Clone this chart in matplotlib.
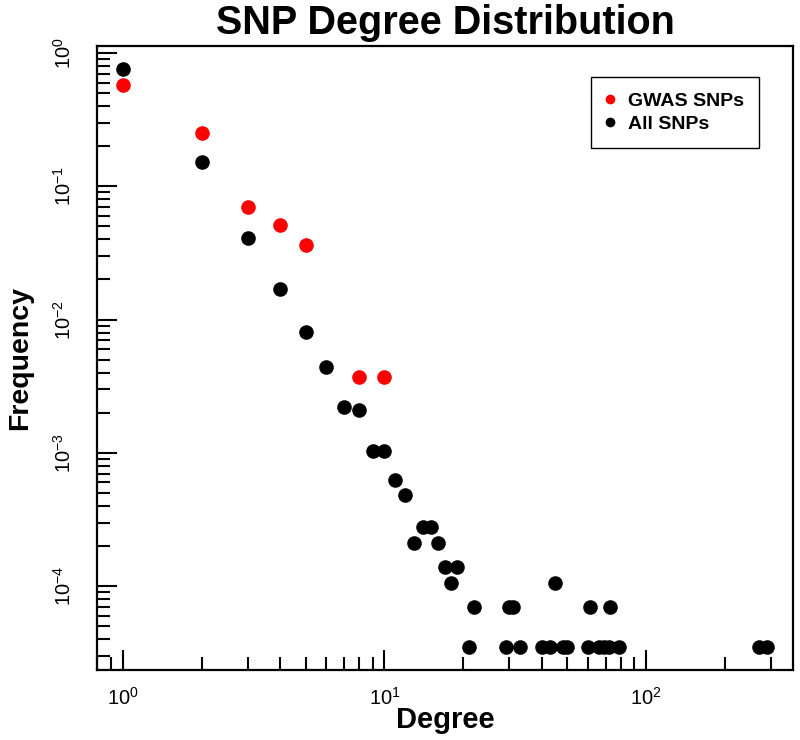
import numpy as np
import matplotlib
matplotlib.use("Agg")
import matplotlib.pyplot as plt
from matplotlib.ticker import LogLocator, NullFormatter, LogFormatterMathtext

plt.rcParams["font.family"] = ["Liberation Sans", "DejaVu Sans"]
plt.rcParams["mathtext.fontset"] = "custom"
plt.rcParams["mathtext.rm"] = "Liberation Sans"
plt.rcParams["mathtext.it"] = "Liberation Sans:italic"
plt.rcParams["mathtext.bf"] = "Liberation Sans:bold"

# GWAS SNPs
gwas_degree = [1, 2, 3, 4, 5, 8, 10]
gwas_freq = [0.578, 0.251, 0.0698, 0.0514, 0.0364, 0.0037, 0.0037]

# all SNPs
all_degree = [1, 2, 3, 4, 5, 6, 7, 8, 9, 10, 11, 12, 13, 14, 15, 16, 17, 18, 19,
              21, 22, 29, 30, 31, 33, 40, 43, 45, 48, 50, 60, 61, 66, 69, 72, 73,
              79, 270, 290]
all_freq = [0.758, 0.151, 0.0408, 0.017, 0.00813, 0.00444, 0.0022, 0.0021,
            0.00104, 0.00104, 0.00063, 0.000483, 2.1e-4, 2.8e-4, 2.8e-4, 2.1e-4,
            1.4e-4, 1.05e-4, 1.4e-4,
            3.5e-5, 7e-5, 3.5e-5, 7e-5, 7e-5, 3.5e-5, 3.5e-5, 3.5e-5, 1.05e-4,
            3.5e-5, 3.5e-5, 3.5e-5, 7e-5, 3.5e-5, 3.5e-5, 3.5e-5, 7e-5,
            3.5e-5, 3.5e-5, 3.5e-5]

fig = plt.figure(figsize=(8, 7.4), dpi=100)
ax = fig.add_axes([97 / 800, 70 / 740, 696 / 800, 624 / 740])

ax.plot(gwas_degree, gwas_freq, "o", color="red", ms=10.5, mec="none", label="GWAS SNPs")
ax.plot(all_degree, all_freq, "o", color="black", ms=10.5, mec="none", label="All SNPs")

ax.set_xscale("log")
ax.set_yscale("log")

# R style limits: 4% of the log range on each side
lx = np.log10(np.concatenate([gwas_degree, all_degree]))
ly = np.log10(np.concatenate([gwas_freq, all_freq]))
px = 0.04 * (lx.max() - lx.min())
py = 0.04 * (ly.max() - ly.min())
ax.set_xlim(10 ** (lx.min() - px), 10 ** (lx.max() + px))
ax.set_ylim(10 ** (ly.min() - py), 10 ** (ly.max() + py))

for axis in (ax.xaxis, ax.yaxis):
    axis.set_major_locator(LogLocator(base=10, numticks=12))
    axis.set_minor_locator(LogLocator(base=10, subs=np.arange(2, 10), numticks=12))
    axis.set_major_formatter(LogFormatterMathtext())
    axis.set_minor_formatter(NullFormatter())

ax.tick_params(which="major", direction="in", length=14.4, width=1.5, labelsize=14.5)
ax.tick_params(which="minor", direction="in", length=9.4, width=1.5)
ax.tick_params(axis="x", which="both", pad=12)
ax.tick_params(axis="y", which="both", pad=16, labelrotation=90)
plt.setp(ax.get_yticklabels(), va="center")

for s in ax.spines.values():
    s.set_linewidth(1.6)

ax.set_title("SNP Degree Distribution", fontsize=28.5, fontweight="bold", pad=8.6)
ax.set_xlabel("Degree", fontsize=21, fontweight="bold")
ax.set_ylabel("Frequency", fontsize=20.5, fontweight="bold")
ax.xaxis.set_label_coords(0.5, -0.0577)
ax.yaxis.set_label_coords(-0.092, 0.5)

leg = ax.legend(loc="upper right", bbox_to_anchor=(0.9511, 0.9503), borderaxespad=0,
                prop={"weight": "bold", "size": 14}, markerscale=0.667,
                fancybox=False, edgecolor="black", framealpha=1,
                borderpad=0.78, labelspacing=0.3, handlelength=0.4, handletextpad=0.7)
leg.get_frame().set_linewidth(1.0)

fig.savefig("out.png", dpi=100)
